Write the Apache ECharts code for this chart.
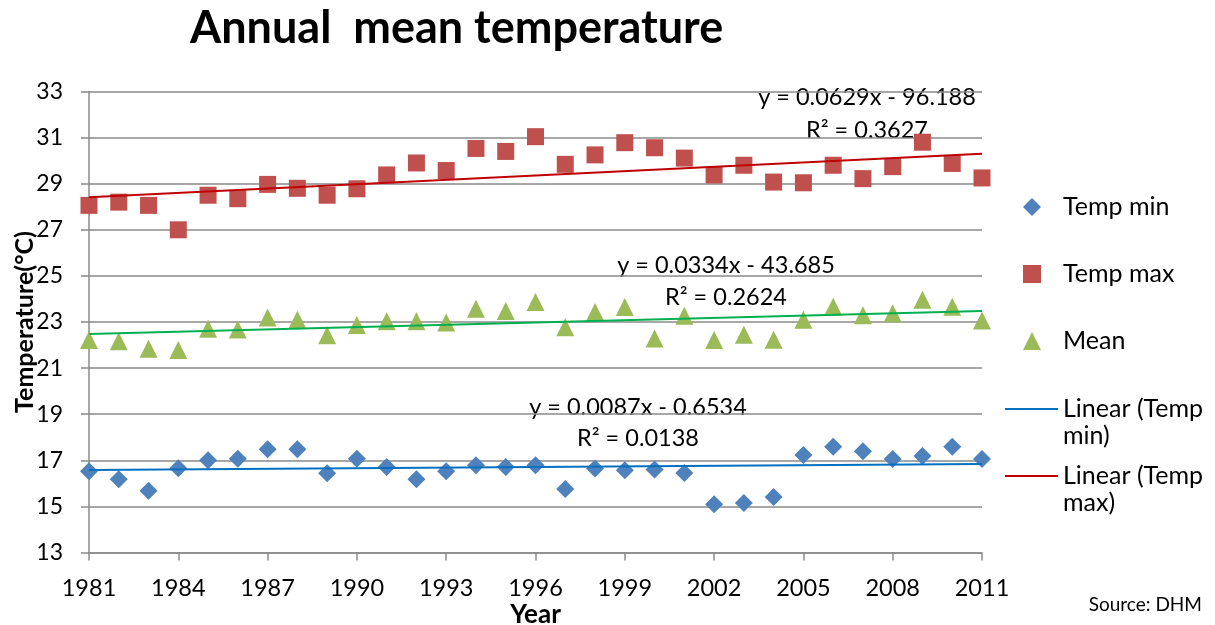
<!DOCTYPE html>
<html>
<head>
<meta charset="utf-8">
<script src="https://cdn.jsdelivr.net/npm/echarts@6/dist/echarts.min.js"></script>
<style>
  html, body { margin: 0; padding: 0; background: #ffffff; }
  #chart { width: 1215px; height: 625px; }
</style>
</head>
<body>
<div id="chart"></div>
<script>
// Annual temperatures 1981-2011 (°C)
const years = [1981, 1982, 1983, 1984, 1985, 1986, 1987, 1988, 1989, 1990,
               1991, 1992, 1993, 1994, 1995, 1996, 1997, 1998, 1999, 2000,
               2001, 2002, 2003, 2004, 2005, 2006, 2007, 2008, 2009, 2010, 2011];

const tempMin = [16.52, 16.18, 15.68, 16.65, 17.00, 17.07, 17.48, 17.48, 16.44, 17.07,
                 16.71, 16.18, 16.52, 16.78, 16.71, 16.78, 15.76, 16.64, 16.57, 16.60,
                 16.45, 15.09, 15.15, 15.41, 17.23, 17.59, 17.39, 17.06, 17.19, 17.59, 17.06];

const tempMax = [28.06, 28.20, 28.06, 27.00, 28.50, 28.35, 28.97, 28.80, 28.50, 28.78,
                 29.38, 29.90, 29.57, 30.53, 30.40, 31.04, 29.84, 30.25, 30.78, 30.56,
                 30.11, 29.38, 29.80, 29.07, 29.04, 29.80, 29.22, 29.74, 30.80, 29.88, 29.25];

const tempMean = [22.22, 22.16, 21.84, 21.79, 22.71, 22.67, 23.20, 23.10, 22.42, 22.87,
                  23.03, 23.03, 22.98, 23.58, 23.48, 23.87, 22.77, 23.43, 23.65, 22.28,
                  23.27, 22.22, 22.45, 22.23, 23.10, 23.66, 23.29, 23.38, 23.97, 23.66, 23.06];

// Linear trend fits: y = slope * year + intercept
const trendNames = ['Linear (Temp min)', 'Linear (Temp max)', 'Linear (Mean)'];
const trendSlopes = [0.0087, 0.0629, 0.0334];
const trendIntercepts = [-0.6534, -96.188, -43.685];
const trendR2 = ['0.0138', '0.3627', '0.2624'];
const trendColors = ['#0070C0', '#C00000', '#00B050'];

const FONT = 'Lato';

const pairs = (vals) => years.map((y, i) => [y, vals[i]]);
const trendLine = (k) => {
  const x0 = years[0], x1 = years[years.length - 1];
  return [[x0, trendSlopes[k] * x0 + trendIntercepts[k]],
          [x1, trendSlopes[k] * x1 + trendIntercepts[k]]];
};
const eqText = (k) => {
  const b = trendIntercepts[k];
  return 'y = ' + trendSlopes[k] + 'x ' + (b < 0 ? '- ' : '+ ') + Math.abs(b);
};

const gridColor = '#8A8A8A';
const markerSeries = (name, vals, symbol, size, color) => ({
  name, type: 'scatter', data: pairs(vals), symbol, symbolSize: size,
  itemStyle: { color, opacity: 1 }, z: 3, emphasis: { disabled: true }
});
const lineSeries = (k) => ({
  name: trendNames[k], type: 'line', data: trendLine(k), symbol: 'none',
  lineStyle: { color: trendColors[k], width: 2 }, itemStyle: { color: trendColors[k] },
  z: 5, emphasis: { disabled: true }, silent: true
});

const markerLegend = (name, top) => ({
  data: [name], left: 1023, top, orient: 'vertical', padding: 0,
  itemWidth: 18, itemHeight: 18, selectedMode: false,
  textStyle: { fontFamily: FONT, fontSize: 25, color: '#000', lineHeight: 28, padding: [0, 0, 0, 17] }
});
const lineLegend = (name, top) => ({
  data: [{ name, icon: 'rect' }], left: 1005, top, orient: 'vertical', padding: 0,
  itemWidth: 53, itemHeight: 2, selectedMode: false,
  formatter: (n) => '\n' + n.replace(' (Temp ', ' (Temp\n'),
  textStyle: { fontFamily: FONT, fontSize: 25, color: '#000', lineHeight: 27 }
});

const eqLabels = [
  { k: 1, x: 867, y1: 97, y2: 130 },
  { k: 2, x: 726, y1: 265, y2: 297 },
  { k: 0, x: 638, y1: 407, y2: 438 }
];
const graphics = [];
eqLabels.forEach((e) => {
  graphics.push({ type: 'text', x: e.x, y: e.y1, silent: true,
    style: { text: eqText(e.k), align: 'center', verticalAlign: 'middle', fill: '#000',
             font: '23.5px ' + FONT } });
  graphics.push({ type: 'text', x: e.x, y: e.y2, silent: true,
    style: { text: 'R² = ' + trendR2[e.k], align: 'center', verticalAlign: 'middle', fill: '#000',
             font: '23.5px ' + FONT } });
});
graphics.push({ type: 'text', x: 1202, y: 605, silent: true,
  style: { text: 'Source: DHM', align: 'right', verticalAlign: 'middle', fill: '#000',
           font: '19px ' + FONT } });

const chart = echarts.init(document.getElementById('chart'), null, { renderer: 'canvas' });
chart.setOption({
  animation: false,
  backgroundColor: '#ffffff',
  title: {
    text: 'Annual  mean temperature', left: 190, top: 3, padding: 0,
    textStyle: { fontFamily: FONT, fontSize: 45, fontWeight: 'bold', color: '#000', lineHeight: 50 }
  },
  grid: { left: 89, right: 233, top: 91.5, bottom: 72.5, containLabel: false, outerBoundsMode: 'none' },
  xAxis: {
    type: 'value', min: 1981, max: 2011, interval: 3,
    name: 'Year', nameLocation: 'middle', nameGap: 49, nameMoveOverlap: false,
    nameTextStyle: { fontFamily: FONT, fontSize: 26, fontWeight: 'bold', color: '#000' },
    axisLine: { show: true, lineStyle: { color: gridColor, width: 1.5 } },
    axisTick: { show: true, length: 8, lineStyle: { color: gridColor, width: 1.5 } },
    axisLabel: { margin: 24, fontFamily: FONT, fontSize: 23.5, color: '#000',
                 verticalAlign: 'top', formatter: (v) => String(v) },
    splitLine: { show: false }
  },
  yAxis: {
    type: 'value', min: 13, max: 33, interval: 2,
    name: 'Temperature(°C)', nameLocation: 'middle', nameGap: 52, nameMoveOverlap: false,
    nameTextStyle: { fontFamily: FONT, fontSize: 25, fontWeight: 'bold', color: '#000' },
    axisLine: { show: true, lineStyle: { color: gridColor, width: 1.5 } },
    axisTick: { show: true, length: 8, lineStyle: { color: gridColor, width: 1.5 } },
    axisLabel: { margin: 26, fontFamily: FONT, fontSize: 23, color: '#000', align: 'right' },
    splitLine: { show: true, lineStyle: { color: gridColor, width: 1.5 } }
  },
  legend: [
    markerLegend('Temp min', 193),
    markerLegend('Temp max', 260),
    markerLegend('Mean', 327),
    lineLegend('Linear (Temp min)', 368.5),
    lineLegend('Linear (Temp max)', 435.5)
  ],
  series: [
    markerSeries('Temp min', tempMin, 'diamond', 18, '#4F81BD'),
    markerSeries('Temp max', tempMax, 'rect', 17, '#C0504D'),
    markerSeries('Mean', tempMean, 'triangle', 18, '#9BBB59'),
    lineSeries(0),
    lineSeries(1),
    lineSeries(2)
  ],
  graphic: graphics
});
</script>
</body>
</html>
